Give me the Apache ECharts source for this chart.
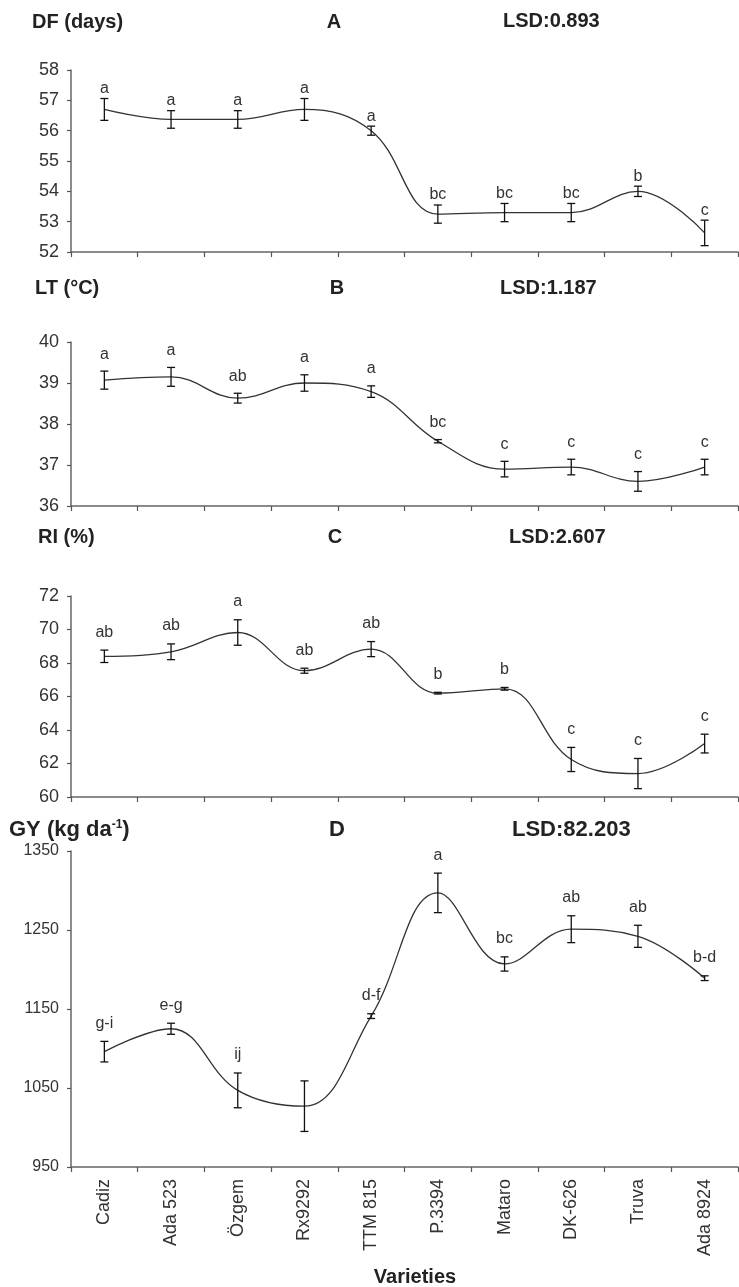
<!DOCTYPE html>
<html><head><meta charset="utf-8">
<script src="https://cdn.jsdelivr.net/npm/echarts@6/dist/echarts.min.js"></script>
<style>html,body{margin:0;padding:0;background:#fff}#c{width:739px;height:1287px}</style>
</head><body><div id="c"></div>
<script>
const varieties = ['Cadiz','Ada 523','Özgem','Rx9292','TTM 815','P.3394','Mataro','DK-626','Truva','Ada 8924'];

const dfMean = [56.70, 56.37, 56.37, 56.70, 56.00, 53.25, 53.30, 53.30, 54.00, 52.63];
const dfErr  = [0.36, 0.29, 0.29, 0.36, 0.15, 0.30, 0.30, 0.30, 0.17, 0.42];
const dfLetters = ['a','a','a','a','a','bc','bc','bc','b','c'];

const ltMean = [39.07, 39.15, 38.63, 39.00, 38.79, 37.58, 36.90, 36.95, 36.60, 36.95];
const ltErr  = [0.22, 0.23, 0.12, 0.20, 0.14, 0.04, 0.19, 0.19, 0.24, 0.19];
const ltLetters = ['a','a','ab','a','a','bc','c','c','c','c'];

const riMean = [68.40, 68.67, 69.82, 67.54, 68.83, 66.20, 66.46, 62.24, 61.40, 63.19];
const riErr  = [0.37, 0.47, 0.76, 0.15, 0.45, 0.05, 0.08, 0.72, 0.90, 0.56];
const riLetters = ['ab','ab','a','ab','ab','b','b','c','c','c'];

const gyMean = [1096, 1125, 1047, 1027, 1141, 1297, 1207, 1251, 1242, 1189];
const gyErr  = [13, 7, 22, 32, 3, 25, 9, 17, 14, 3];
const gyLetters = ['g-i','e-g','ij','','d-f','a','bc','ab','ab','b-d'];

const yTicksA = {min:52, max:58, interval:1};
const yTicksB = {min:36, max:40, interval:1};
const yTicksC = {min:60, max:72, interval:2};
const yTicksD = {min:950, max:1350, interval:100};

const FONT = '"Liberation Sans", Arial, sans-serif';
const grids = [
  {left:71, width:667, top:70, height:182},
  {left:71, width:667, top:342, height:164},
  {left:71, width:667, top:596, height:201},
  {left:71, width:667, top:851, height:316}
];
const yt = [yTicksA, yTicksB, yTicksC, yTicksD];

function lineSeries(gi, mean){
  return {type:'line', xAxisIndex:gi, yAxisIndex:gi, data:mean, smooth:0.4, symbol:'none',
    lineStyle:{color:'#333', width:1.3}, z:2};
}
function errSeries(gi, mean, err, letters, off){
  return {type:'custom', xAxisIndex:gi, yAxisIndex:gi, z:3,
    data: mean.map((m,i)=>[i, m-err[i], m+err[i]]),
    encode:{x:0, y:[1,2]},
    renderItem(params, api){
      const i = api.value(0);
      const lo = api.coord([i, api.value(1)]);
      const hi = api.coord([i, api.value(2)]);
      const x = lo[0], cw = 4;
      const ls = {stroke:'#111', lineWidth:1.3};
      const ch = [
        {type:'line', shape:{x1:x,y1:lo[1],x2:x,y2:hi[1]}, style:ls},
        {type:'line', shape:{x1:x-cw,y1:lo[1],x2:x+cw,y2:lo[1]}, style:ls},
        {type:'line', shape:{x1:x-cw,y1:hi[1],x2:x+cw,y2:hi[1]}, style:ls}
      ];
      const t = letters[params.dataIndex];
      if (t) ch.push({type:'text', style:{text:t, x:x, y:hi[1]-off, align:'center', verticalAlign:'middle',
        font:'16px '+FONT, fill:'#333'}});
      return {type:'group', children:ch};
    }
  };
}

const titleStyle = (size)=>'bold '+size+'px '+FONT;
function txt(text, x, y, size, align){
  return {type:'text', x:x, y:y, style:{text:text, font:titleStyle(size), fill:'#222', align:align||'left', verticalAlign:'middle'}};
}

const option = {
  animation:false,
  backgroundColor:'#fff',
  grid: grids,
  xAxis: grids.map((g,i)=>({
    gridIndex:i, type:'category', data:varieties, boundaryGap:true,
    axisLine:{lineStyle:{color:'#666', width:1.5}},
    axisTick:{show:true, interval:0, length:5, lineStyle:{color:'#555', width:1.2}},
    axisLabel:{show:i===3, interval:0, rotate:90, margin:12, fontSize:18, color:'#333', fontFamily:FONT}
  })),
  yAxis: grids.map((g,i)=>({
    gridIndex:i, type:'value', min:yt[i].min, max:yt[i].max, interval:yt[i].interval,
    splitLine:{show:false},
    axisLine:{show:true, lineStyle:{color:'#666', width:1.5}},
    axisTick:{show:true, length:4, lineStyle:{color:'#555', width:1.2}},
    axisLabel:{margin:12, fontSize:i===3?16:18, color:'#333', fontFamily:FONT, formatter:(v)=>String(v)}
  })),
  series: [
    lineSeries(0, dfMean), errSeries(0, dfMean, dfErr, dfLetters, 10),
    lineSeries(1, ltMean), errSeries(1, ltMean, ltErr, ltLetters, 17),
    lineSeries(2, riMean), errSeries(2, riMean, riErr, riLetters, 18),
    lineSeries(3, gyMean), errSeries(3, gyMean, gyErr, gyLetters, 18)
  ],
  graphic: [
    txt('DF (days)', 32, 22, 20), txt('A', 334, 22, 20, 'center'), txt('LSD:0.893', 503, 21, 20),
    txt('LT (°C)', 35, 288, 20), txt('B', 337, 288, 20, 'center'), txt('LSD:1.187', 500, 288, 20),
    txt('RI (%)', 38, 537, 20), txt('C', 335, 537, 20, 'center'), txt('LSD:2.607', 509, 537, 20),
    {type:'text', x:9, y:830, style:{text:'GY (kg da{sup|-1})', font:titleStyle(22), fill:'#222', align:'left', verticalAlign:'middle',
      rich:{sup:{font:'bold 12px '+FONT, fill:'#222', padding:[0,0,10,0]}}}},
    txt('D', 337, 830, 22, 'center'), txt('LSD:82.203', 512, 830, 22),
    txt('Varieties', 415, 1277, 20, 'center')
  ]
};
const chart = echarts.init(document.getElementById('c'), null, {renderer:'canvas'});
chart.setOption(option);
</script></body></html>
